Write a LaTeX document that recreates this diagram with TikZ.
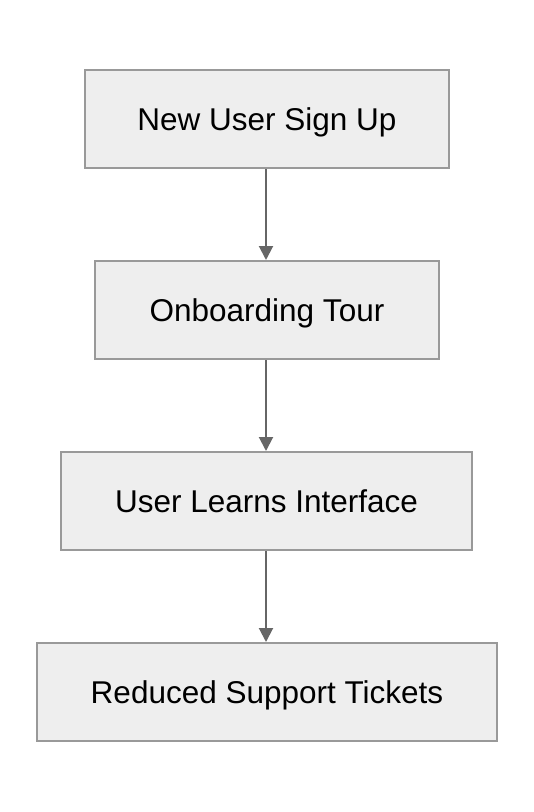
\documentclass[tikz,border=0pt]{standalone}
\usepackage{fontspec}
\setmainfont{Liberation Sans}
\usetikzlibrary{arrows.meta}
\definecolor{boxfill}{HTML}{EEEEEE}
\definecolor{boxline}{HTML}{999999}
\definecolor{arrowc}{HTML}{666666}
\tikzset{
  stepbox/.style={draw=boxline, fill=boxfill, line width=2pt, inner sep=0pt,
    minimum height=98pt, text height=23pt, text depth=0pt,
    font=\fontsize{31.5}{36}\selectfont, text=black},
  flow/.style={draw=arrowc, line width=2pt, -{Triangle[width=14pt,length=14pt]}}
}
\begin{document}
\begin{tikzpicture}[x=1pt,y=-1pt]
\useasboundingbox (0,0) rectangle (534,812);
\node[stepbox, minimum width=364pt] (a) at (267,119) {New User Sign Up};
\node[stepbox, minimum width=344pt] (b) at (267,310) {Onboarding Tour};
\node[stepbox, minimum width=411pt] (c) at (266.5,501) {User Learns Interface};
\node[stepbox, minimum width=460pt] (d) at (267,692) {Reduced Support Tickets};
\draw[flow] (a.south -| 266,0) -- (b.north -| 266,0);
\draw[flow] (b.south -| 266,0) -- (c.north -| 266,0);
\draw[flow] (c.south -| 266,0) -- (d.north -| 266,0);
\end{tikzpicture}
\end{document}
